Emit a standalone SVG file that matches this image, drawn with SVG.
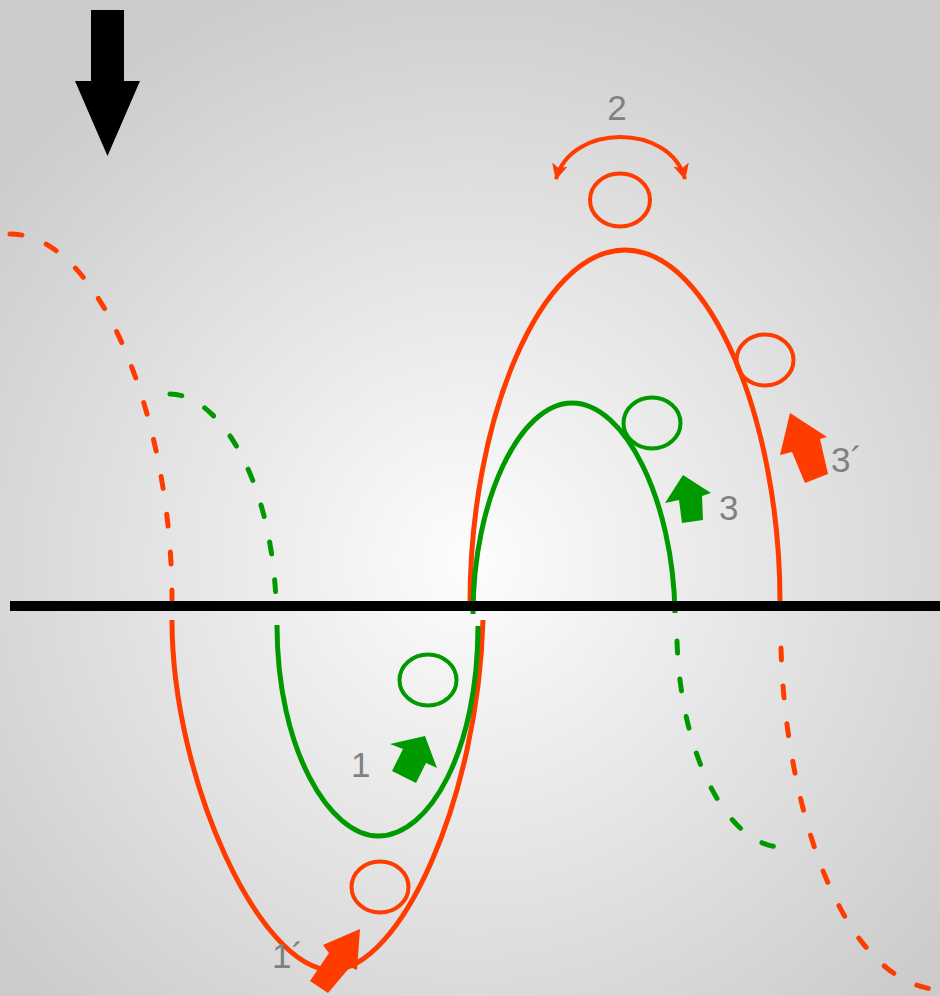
<svg xmlns="http://www.w3.org/2000/svg" width="940" height="996" viewBox="0 0 940 996">
  <defs>
    <radialGradient id="bg" gradientUnits="userSpaceOnUse" cx="470" cy="560" r="620">
      <stop offset="0" stop-color="#fdfdfd"/>
      <stop offset="1" stop-color="#cbcbcb"/>
    </radialGradient>
    <marker id="head" markerUnits="userSpaceOnUse" markerWidth="20" markerHeight="18" refX="15" refY="8" orient="auto-start-reverse" viewBox="0 0 20 18">
      <path d="M0,0 L16,8 L0,16 L4,8 Z" fill="#ff3c00"/>
    </marker>
  </defs>
  <style>
    .red { fill: none; stroke: #ff3c00; stroke-width: 5; }
    .green { fill: none; stroke: #009a00; stroke-width: 5; }
    .dash { stroke-dasharray: 12 26; stroke-linecap: round; }
    .ring { fill: none; stroke-width: 4; }
    .lbl { font-family: "Liberation Sans", Arial, sans-serif; font-size: 35px; fill: #808080; }
  </style>
  <rect x="0" y="0" width="940" height="996" fill="url(#bg)"/>

  <g id="connectors">
    <!-- red curves -->
    <path class="red dash" d="M10,234 C100,234 172,420 172,600"/>
    <path class="red" d="M172,620 C172,780 260,970 332,970 C400,970 478,800 483,620"/>
    <path class="red" d="M470,603 C470,420 540,250 625,250 C710,250 780,420 780,602"/>
    <path class="red dash" d="M781,648 C785,800 840,990 945,990"/>
    <!-- green curves -->
    <path class="green dash" d="M170,394 C215,394 270,470 276,600"/>
    <path class="green" d="M277,625 C277,750 330,836 378,836 C430,836 478,750 478,626"/>
    <path class="green" d="M473,614 C473,500 520,403 572,403 C625,403 673,500 675,613"/>
    <path class="green dash" d="M677,641 C681,760 730,847 782,847"/>
    <!-- rotation arrow -->
    <path d="M556,179 C571,123 670,123 685,179" fill="none" stroke="#ff3c00" stroke-width="4" marker-start="url(#head)" marker-end="url(#head)"/>
  </g>

  <rect id="axis" x="10" y="601" width="930" height="10" fill="#000"/>

  <g id="load-arrow">
    <polygon points="91,10 124,10 124,81 140,81 107.5,156 75,81 91,81" fill="#000"/>
  </g>

  <g id="ring-top"><ellipse class="ring" cx="620" cy="200" rx="30" ry="26.5" stroke="#ff3c00"/></g>
  <g id="ring-3p"><ellipse class="ring" cx="765" cy="360" rx="28.5" ry="25.5" stroke="#ff3c00"/></g>
  <g id="ring-1p"><ellipse class="ring" cx="380" cy="887" rx="28.5" ry="25.5" stroke="#ff3c00"/></g>
  <g id="ring-3"><ellipse class="ring" cx="652" cy="423" rx="28.5" ry="25.5" stroke="#009a00"/></g>
  <g id="ring-1"><ellipse class="ring" cx="428" cy="680" rx="28.5" ry="25.5" stroke="#009a00"/></g>

  <g id="arrow-1">
    <polygon points="390,744 425,736 437,768 426,763 416,783 392,771 403,749" fill="#009a00"/>
  </g>
  <g id="arrow-3">
    <polygon points="665,503 683,475 711,493 702,496 703,520 682,523 679,500" fill="#009a00"/>
  </g>
  <g id="arrow-3p">
    <polygon points="790,413 827,437 820,439 828,474 805,483 792,452 780,455" fill="#ff3c00"/>
  </g>
  <g id="arrow-1p">
    <polygon points="360,929 357,970 350,967 328,993 310,981 329,953 323,945" fill="#ff3c00"/>
  </g>

  <g id="labels">
    <text class="lbl" x="617" y="120" text-anchor="middle">2</text>
    <text class="lbl" x="351" y="777">1</text>
    <text class="lbl" x="272" y="968">1´</text>
    <text class="lbl" x="719" y="520">3</text>
    <text class="lbl" x="831" y="472">3´</text>
  </g>
</svg>
